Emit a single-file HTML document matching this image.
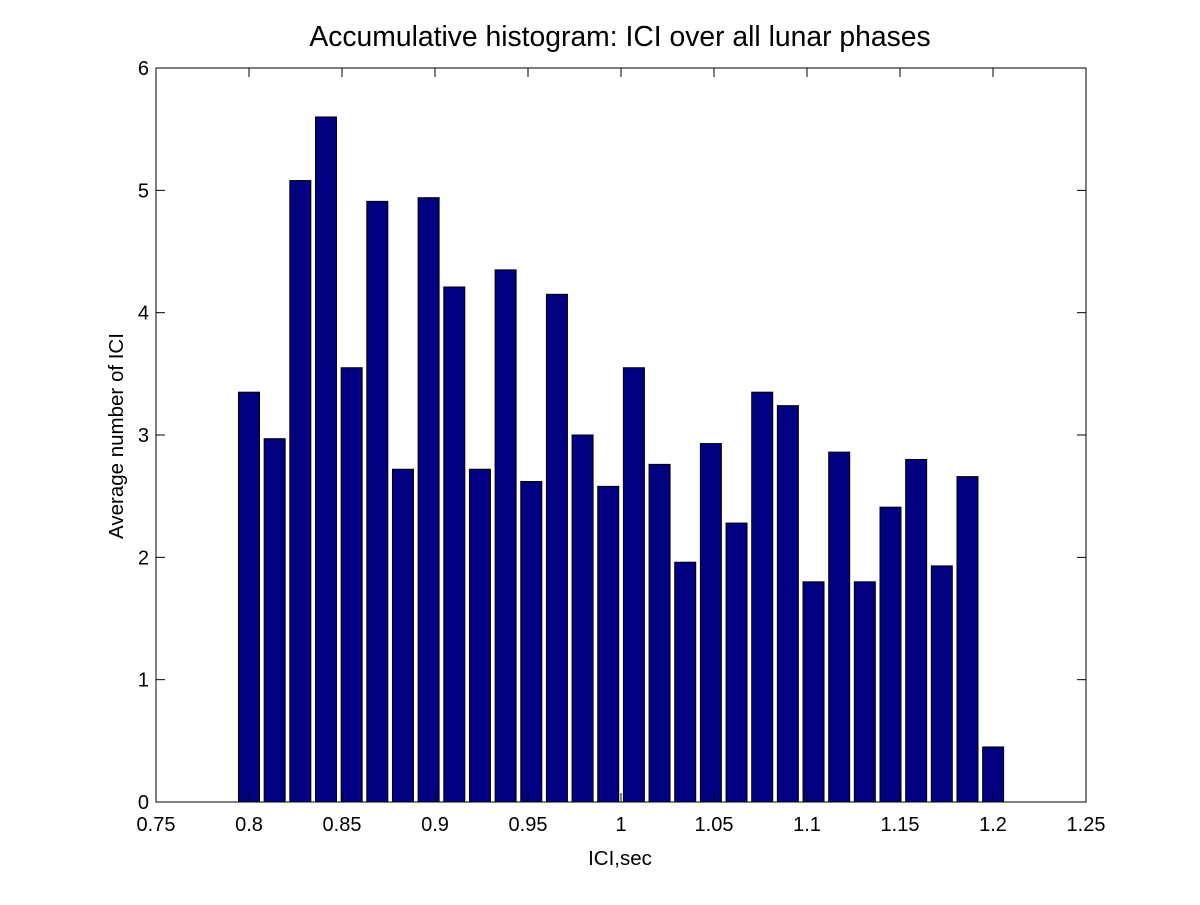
<!DOCTYPE html>
<html><head><style>body{margin:0;background:#fff}</style></head><body>
<svg width="1200" height="900" xmlns="http://www.w3.org/2000/svg" font-family="Liberation Sans, sans-serif">
<rect width="1200" height="900" fill="#fff"/>
<g id="bars" fill="#000080" stroke="#000" stroke-width="1"></g>
<rect x="156" y="68" width="930" height="734" fill="none" stroke="#000" stroke-width="1"/>
<g id="ticks" stroke="#000" stroke-width="1"></g>
<g id="labels" font-size="20" fill="#000"></g>
<text x="620" y="46" font-size="28.3" text-anchor="middle">Accumulative histogram: ICI over all lunar phases</text>
<text x="620" y="865" font-size="20.5" text-anchor="middle">ICI,sec</text>
<text transform="translate(123,436) rotate(-90)" font-size="20.5" text-anchor="middle">Average number of ICI</text>
</svg>
<script>
const h=[3.35,2.97,5.08,5.6,3.55,4.91,2.72,4.94,4.21,2.72,4.35,2.62,4.15,3.0,2.58,3.55,2.76,1.96,2.93,2.28,3.35,3.24,1.8,2.86,1.8,2.41,2.8,1.93,2.66,0.45];
const ns="http://www.w3.org/2000/svg";
const X=v=>156+(v-0.75)/0.5*930, Y=v=>802-v*122.33;
const b=document.getElementById('bars');
h.forEach((v,i)=>{const cx=249+i*25.66;const r=document.createElementNS(ns,'rect');
r.setAttribute('x',cx-10.5);r.setAttribute('width',21);r.setAttribute('y',Y(v));r.setAttribute('height',v*122.33);b.appendChild(r);});
const t=document.getElementById('ticks'),l=document.getElementById('labels');
function line(x1,y1,x2,y2){const e=document.createElementNS(ns,'line');e.setAttribute('x1',x1);e.setAttribute('y1',y1);e.setAttribute('x2',x2);e.setAttribute('y2',y2);t.appendChild(e);}
function txt(x,y,s,a){const e=document.createElementNS(ns,'text');e.setAttribute('x',x);e.setAttribute('y',y);e.setAttribute('text-anchor',a);e.textContent=s;l.appendChild(e);}
['0.75','0.8','0.85','0.9','0.95','1','1.05','1.1','1.15','1.2','1.25'].forEach(s=>{const x=X(+s);line(x,802,x,793);line(x,68,x,77);txt(x,831,s,'middle');});
for(let i=0;i<=6;i++){const y=Y(i);line(156,y,165,y);line(1086,y,1077,y);txt(149,y+7,String(i),'end');}
</script>
</body></html>
